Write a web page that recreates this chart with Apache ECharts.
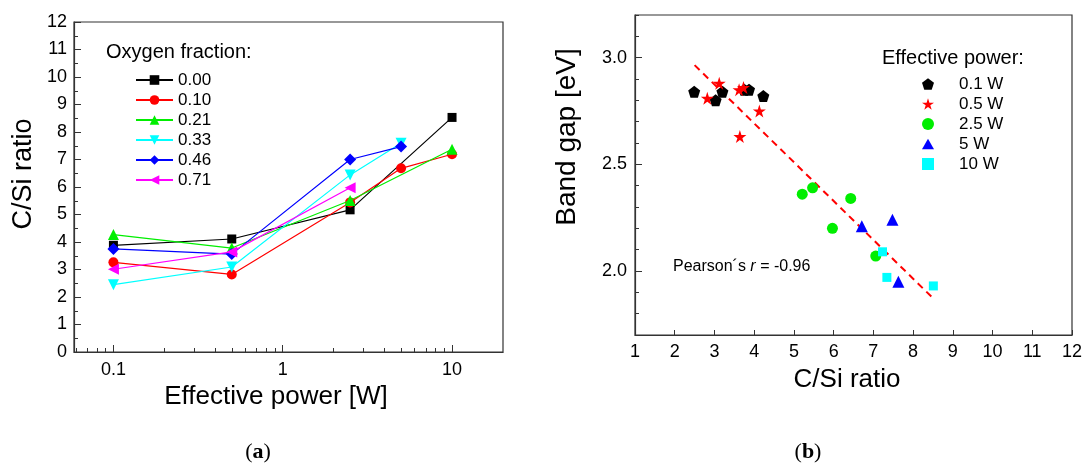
<!DOCTYPE html>
<html>
<head>
<meta charset="utf-8">
<script src="https://cdn.jsdelivr.net/npm/echarts@6/dist/echarts.min.js"></script>
<style>
html,body{margin:0;padding:0;background:#fff;}
#c{width:1086px;height:468px;}
</style>
</head>
<body>
<div id="c"></div>
<script>
// ---------- Panel (a) data ----------
const powerW = [0.1, 0.5, 2.5, 5, 10];
const fractionNames = ['0.00', '0.10', '0.21', '0.33', '0.46', '0.71'];
const frac000 = [3.88, 4.11, 5.17, null, 8.53];
const frac010 = [3.26, 2.82, 5.44, 6.68, 7.19];
const frac021 = [4.27, 3.78, 5.51, null, 7.37];
const frac033 = [2.45, 3.09, 6.44, 7.59, null];
const frac046 = [3.75, 3.56, 7.00, 7.47, null];
const frac071 = [3.01, 3.64, 5.97, null, null];
const powerTickValues = [0.1, 1, 10];
const powerTickLabels = ['0.1', '1', '10'];

// ---------- Panel (b) data ----------
const powerNames = ['0.1 W', '0.5 W', '2.5 W', '5 W', '10 W'];
const ratio01 = [2.49, 3.03, 3.20, 3.75, 3.87, 4.23];
const gap01   = [2.84, 2.80, 2.84, 2.85, 2.85, 2.82];
const ratio05 = [2.82, 3.12, 3.62, 3.73, 3.64, 4.13];
const gap05   = [2.81, 2.88, 2.85, 2.86, 2.63, 2.75];
const ratio25 = [5.21, 5.47, 6.43, 5.97, 7.06];
const gap25   = [2.36, 2.39, 2.34, 2.20, 2.07];
const ratio5  = [6.71, 7.48, 7.63];
const gap5    = [2.21, 2.24, 1.95];
const ratio10 = [7.23, 7.34, 8.51];
const gap10   = [2.09, 1.97, 1.93];
const fitX = [2.5, 8.5];
const fitY = [2.965, 1.873];
const gapTickValues = [2.0, 2.5, 3.0];
const gapTickLabels = ['2.0', '2.5', '3.0'];

// ---------- helpers ----------
const L = Math.log10;
const X_MIN = L(0.0585), X_MAX = L(20);
const minorLog = [];
for (let n = -2; n <= 1; n++) for (let k = 2; k <= 9; k++) {
  const v = L(k * Math.pow(10, n));
  if (v > X_MIN && v < X_MAX) minorLog.push(v);
}
const majorLog = powerTickValues.map(L);

const FONT = 'Liberation Sans, Arial, sans-serif';
const AX = '#333';

function fracData(vals) {
  const out = [];
  powerW.forEach((p, i) => { if (vals[i] !== null) out.push([L(p), vals[i]]); });
  return out;
}
function pairs(xs, ys) { return xs.map((x, i) => [x, ys[i]]); }

const PENT = 'path://M0,-1 L0.951,-0.309 L0.588,0.809 L-0.588,0.809 L-0.951,-0.309 Z';
const STAR = 'path://M0,-1 L0.2245,-0.309 L0.951,-0.309 L0.363,0.118 L0.588,0.809 L0,0.382 L-0.588,0.809 L-0.363,0.118 L-0.951,-0.309 L-0.2245,-0.309 Z';
const TRI_UP = 'path://M0.5,0 L1,0.87 L0,0.87 Z';
const TRI_DOWN = 'path://M0,0 L1,0 L0.5,0.87 Z';
const TRI_LEFT = 'path://M0,0.5 L0.87,0 L0.87,1 Z';
const SQUARE = 'path://M0,0 L1,0 L1,1 L0,1 Z';

const fracSets = [frac000, frac010, frac021, frac033, frac046, frac071];
const fracColors = ['#000000', '#ff0000', '#00ee00', '#00ffff', '#0000ff', '#ff00ff'];
const fracSymbols = ['rect', 'circle', 'triangle', TRI_DOWN, 'diamond', TRI_LEFT];
const fracSizes = [9, 10, 11, 11, 12, 11];

const series = [];
fracSets.forEach((vals, i) => {
  series.push({
    name: fractionNames[i], type: 'line', xAxisIndex: 0, yAxisIndex: 0,
    data: fracData(vals), symbol: fracSymbols[i], symbolSize: fracSizes[i],
    lineStyle: { color: fracColors[i], width: 1.2 },
    itemStyle: { color: fracColors[i] }, animation: false, z: 3 + i
  });
});

const pSets = [[ratio01, gap01], [ratio05, gap05], [ratio25, gap25], [ratio5, gap5], [ratio10, gap10]];
const pColors = ['#000000', '#ff0000', '#00ee00', '#0000ff', '#00ffff'];
const pSymbols = [PENT, STAR, 'circle', TRI_UP, SQUARE];
const pSizes = [12, 13, 11, 12, 9];

series.push({
  name: 'fit', type: 'line', xAxisIndex: 2, yAxisIndex: 1,
  data: pairs(fitX, fitY), symbol: 'none',
  lineStyle: { color: '#ff0000', width: 2, type: [7, 5] }, animation: false, z: 2
});
pSets.forEach((s, i) => {
  series.push({
    name: powerNames[i], type: 'scatter', xAxisIndex: 2, yAxisIndex: 1,
    data: pairs(s[0], s[1]), symbol: pSymbols[i], symbolSize: pSizes[i],
    itemStyle: { color: pColors[i], opacity: 1 }, animation: false, z: 3 + i
  });
});

const lab = { color: '#000', fontFamily: FONT, fontSize: 18 };

const option = {
  backgroundColor: '#ffffff',
  animation: false,
  grid: [
    { left: 74, top: 22, width: 429, height: 330, show: true, borderColor: AX, borderWidth: 1.2, backgroundColor: 'transparent' },
    { left: 635, top: 15, width: 437, height: 320, show: true, borderColor: AX, borderWidth: 1.2, backgroundColor: 'transparent' }
  ],
  xAxis: [
    { gridIndex: 0, type: 'value', min: X_MIN, max: X_MAX, position: 'bottom',
      axisLine: { show: true, onZero: false, lineStyle: { color: AX, width: 1.2 } },
      axisTick: { show: true, inside: true, length: 7, customValues: majorLog, lineStyle: { color: AX } },
      axisLabel: Object.assign({ customValues: majorLog, margin: 9,
        formatter: v => powerTickLabels[majorLog.findIndex(m => Math.abs(m - v) < 1e-6)] }, lab),
      splitLine: { show: false } },
    { gridIndex: 0, type: 'value', min: X_MIN, max: X_MAX, position: 'bottom', offset: 0,
      axisLine: { show: false, onZero: false },
      axisTick: { show: true, inside: true, length: 4, customValues: minorLog, lineStyle: { color: AX } },
      axisLabel: { show: false }, splitLine: { show: false } },
    { gridIndex: 1, type: 'value', min: 1, max: 12, interval: 1, position: 'bottom',
      axisLine: { show: true, onZero: false, lineStyle: { color: AX, width: 1.2 } },
      axisTick: { show: true, inside: true, length: 5, lineStyle: { color: AX } },
      axisLabel: Object.assign({ margin: 8 }, lab),
      splitLine: { show: false } }
  ],
  yAxis: [
    { gridIndex: 0, type: 'value', min: 0, max: 12, interval: 1, position: 'left',
      axisLine: { show: true, onZero: false, lineStyle: { color: AX, width: 1.2 } },
      axisTick: { show: true, inside: true, length: 7, lineStyle: { color: AX } },
      minorTick: { show: true, splitNumber: 2, length: 4, lineStyle: { color: AX } },
      axisLabel: Object.assign({ margin: 7 }, lab),
      splitLine: { show: false } },
    { gridIndex: 1, type: 'value', min: 1.7, max: 3.2, interval: 0.1, position: 'left',
      axisLine: { show: true, onZero: false, lineStyle: { color: AX, width: 1.2 } },
      axisTick: { show: true, inside: true, length: 4, lineStyle: { color: AX } },
      axisLabel: Object.assign({ customValues: gapTickValues, margin: 8,
        formatter: v => gapTickLabels[gapTickValues.findIndex(m => Math.abs(m - v) < 1e-6)] }, lab),
      splitLine: { show: false } },
    { gridIndex: 1, type: 'value', min: 1.7, max: 3.2, position: 'left', offset: 0,
      axisLine: { show: false, onZero: false },
      axisTick: { show: true, inside: true, length: 7, customValues: gapTickValues, lineStyle: { color: AX } },
      axisLabel: { show: false }, splitLine: { show: false } }
  ],
  legend: [
    { data: fractionNames, orient: 'vertical', left: 135, top: 70, padding: 0,
      itemWidth: 37, itemHeight: 12, itemGap: 0,
      textStyle: { color: '#000', fontFamily: FONT, fontSize: 17, lineHeight: 20 },
      selectedMode: false },
    { data: powerNames, orient: 'vertical', left: 922, top: 74, padding: 0,
      itemWidth: 12, itemHeight: 12, itemGap: 0,
      textStyle: { color: '#000', fontFamily: FONT, fontSize: 17, lineHeight: 20, padding: [0, 0, 0, 20] },
      selectedMode: false }
  ],
  graphic: [
    { type: 'text', left: 106, top: 42, style: { text: 'Oxygen fraction:', font: '20px ' + FONT, fill: '#000' } },
    { type: 'text', left: 882, top: 48, style: { text: 'Effective power:', font: '20px ' + FONT, fill: '#000' } },
    { type: 'text', x: 276, y: 397, style: { text: 'Effective power [W]', font: '26px ' + FONT, fill: '#000', align: 'center', verticalAlign: 'middle' } },
    { type: 'text', x: 847, y: 380, style: { text: 'C/Si ratio', font: '26px ' + FONT, fill: '#000', align: 'center', verticalAlign: 'middle' } },
    { type: 'text', x: 24, y: 174, rotation: Math.PI / 2, style: { text: 'C/Si ratio', font: '27px ' + FONT, fill: '#000', align: 'center', verticalAlign: 'middle' } },
    { type: 'text', x: 567, y: 137, rotation: Math.PI / 2, style: { text: 'Band gap [eV]', font: '28px ' + FONT, fill: '#000', align: 'center', verticalAlign: 'middle' } },
    { type: 'text', x: 673, y: 267, style: {
        text: 'Pearson´s {i|r} = -0.96', font: '16px ' + FONT, fill: '#000', verticalAlign: 'middle',
        rich: { i: { fontStyle: 'italic', fontSize: 16, fontFamily: FONT, fill: '#000' } } } },
    { type: 'text', x: 258, y: 452, style: {
        text: '({b|a})', font: '22px Liberation Serif, Times New Roman, serif', fill: '#000', align: 'center', verticalAlign: 'middle',
        rich: { b: { fontWeight: 'bold', fontSize: 22, fontFamily: 'Liberation Serif, Times New Roman, serif', fill: '#000' } } } },
    { type: 'text', x: 808, y: 452, style: {
        text: '({b|b})', font: '22px Liberation Serif, Times New Roman, serif', fill: '#000', align: 'center', verticalAlign: 'middle',
        rich: { b: { fontWeight: 'bold', fontSize: 22, fontFamily: 'Liberation Serif, Times New Roman, serif', fill: '#000' } } } }
  ],
  series: series
};

const chart = echarts.init(document.getElementById('c'), null, { renderer: 'canvas' });
chart.setOption(option);
</script>
</body>
</html>
